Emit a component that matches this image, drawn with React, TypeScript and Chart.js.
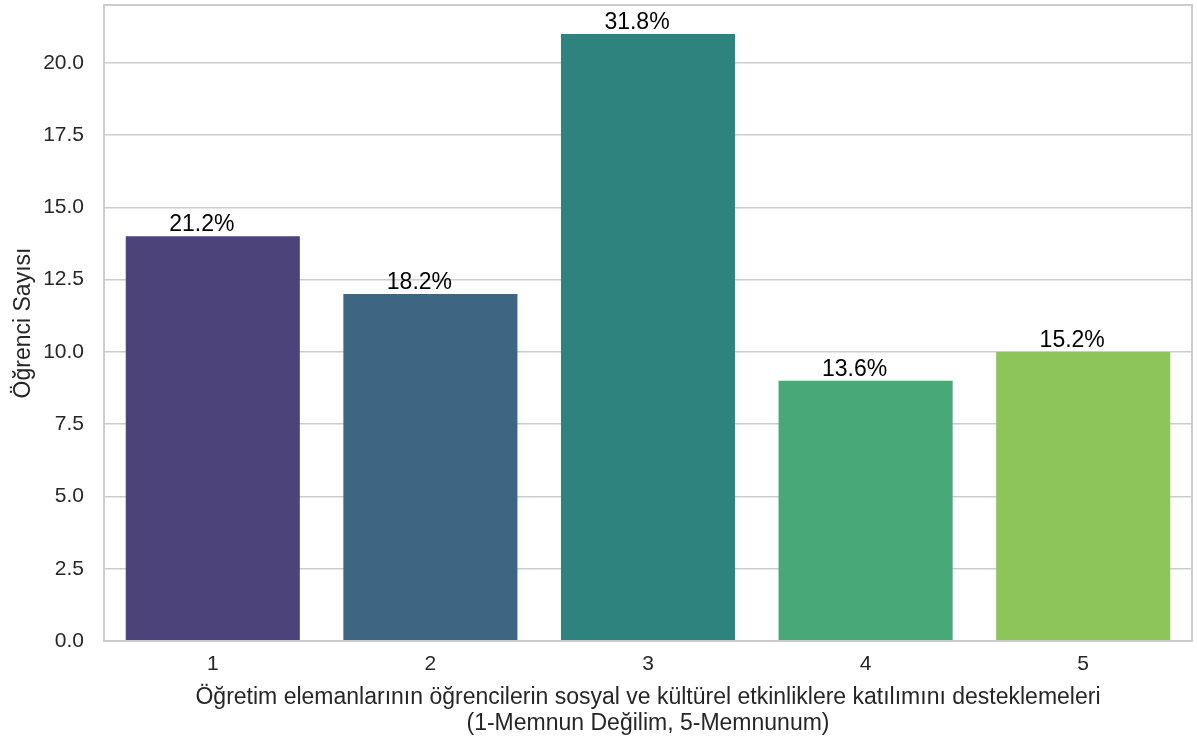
import React, { useEffect, useRef } from "react";
import { Chart, registerables } from "chart.js";

Chart.register(...registerables);

const categories = ["1", "2", "3", "4", "5"];
const counts = [14, 12, 21, 9, 10];
const barColors = ["#4b4379", "#3d6682", "#2f837f", "#48a877", "#8dc55a"];
const yTicks = [0, 2.5, 5, 7.5, 10, 12.5, 15, 17.5, 20];
const yTitle = "Öğrenci Sayısı";
const xTitle = [
  "Öğretim elemanlarının öğrencilerin sosyal ve kültürel etkinliklere katılımını desteklemeleri",
  "(1-Memnun Değilim, 5-Memnunum)",
];

const FONT = "'Liberation Sans', Arial, Helvetica, sans-serif";

const borderPlugin = {
  id: "frameBorder",
  afterDatasetsDraw(chart: any) {
    const { ctx, chartArea } = chart;
    ctx.save();
    ctx.strokeStyle = "#cccccc";
    ctx.lineWidth = 2;
    ctx.strokeRect(chartArea.left, chartArea.top, chartArea.right - chartArea.left, chartArea.bottom - chartArea.top);
    ctx.restore();
  },
};

const labelPlugin = {
  id: "pctLabels",
  afterDatasetsDraw(chart: any) {
    const { ctx } = chart;
    const meta = chart.getDatasetMeta(0);
    const data = chart.data.datasets[0].data as number[];
    const total = data.reduce((a, b) => a + b, 0);
    ctx.save();
    ctx.fillStyle = "#000000";
    ctx.font = `23px ${FONT}`;
    ctx.textAlign = "center";
    ctx.textBaseline = "alphabetic";
    meta.data.forEach((bar: any, i: number) => {
      const pct = ((data[i] / total) * 100).toFixed(1) + "%";
      ctx.fillText(pct, bar.x - 11, bar.y - 5);
    });
    ctx.restore();
  },
};

export default function App() {
  const ref = useRef<HTMLCanvasElement | null>(null);
  useEffect(() => {
    if (!ref.current) return;
    const chart = new Chart(ref.current, {
      type: "bar",
      data: {
        labels: categories,
        datasets: [
          {
            data: counts,
            backgroundColor: barColors,
            borderWidth: 0,
            barPercentage: 0.8,
            categoryPercentage: 1.0,
          },
        ],
      },
      options: {
        responsive: true,
        maintainAspectRatio: false,
        animation: false,
        layout: { padding: { left: 0, top: 5, right: 5, bottom: 0 } },
        plugins: {
          legend: { display: false },
          tooltip: { enabled: false },
        },
        scales: {
          x: {
            grid: { display: false, drawTicks: false },
            border: { display: false },
            ticks: { color: "#262626", font: { family: FONT, size: 21 }, padding: 11 },
            title: {
              display: true,
              text: xTitle,
              color: "#262626",
              font: { family: FONT, size: 23, lineHeight: 1.15 },
              padding: { top: 0, bottom: 6 },
            },
            afterFit(scale: any) {
              scale.height = 102;
              scale.paddingLeft = 0;
              scale.paddingRight = 0;
            },
          },
          y: {
            min: 0,
            max: 22,
            grid: { color: "#cccccc", lineWidth: 1.5, drawTicks: false },
            border: { display: false },
            afterBuildTicks(scale: any) {
              scale.ticks = yTicks.map((v) => ({ value: v }));
            },
            ticks: {
              color: "#262626",
              font: { family: FONT, size: 21 },
              padding: 20,
              callback: (v: any) => Number(v).toFixed(1),
            },
            title: {
              display: true,
              text: yTitle,
              color: "#262626",
              font: { family: FONT, size: 23, lineHeight: 1.2 },
              padding: { top: 10, bottom: 0 },
            },
            afterFit(scale: any) {
              scale.width = 104;
              scale.paddingTop = 0;
              scale.paddingBottom = 0;
            },
          },
        },
      },
      plugins: [borderPlugin, labelPlugin],
    });
    return () => chart.destroy();
  }, []);
  return (
    <div style={{ position: "absolute", left: 0, top: 0, width: 1197, height: 743, background: "#ffffff" }}>
      <canvas ref={ref} />
    </div>
  );
}
